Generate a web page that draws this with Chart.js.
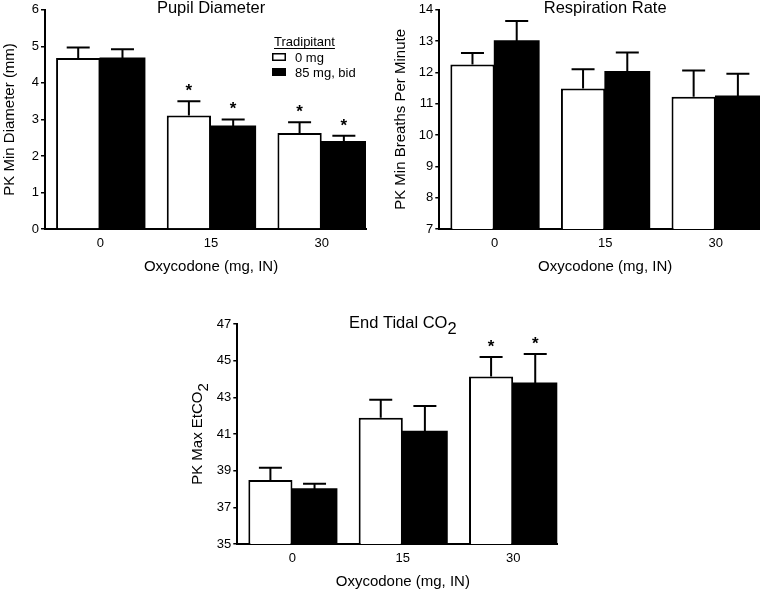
<!DOCTYPE html>
<html><head><meta charset="utf-8">
<script src="https://cdn.jsdelivr.net/npm/chart.js@4.4.1/dist/chart.umd.min.js"></script>
<style>
html,body{margin:0;padding:0;background:#fff;overflow:hidden;width:760px;height:589px;position:relative;}
.box{position:absolute;}
</style></head><body>
<div class="box" style="left:0;top:0;width:380px;height:285px"><canvas id="c1"></canvas></div>
<div class="box" style="left:380px;top:0;width:380px;height:285px"><canvas id="c2"></canvas></div>
<div class="box" style="left:180px;top:300px;width:400px;height:300px"><canvas id="c3"></canvas></div>
<script>
// ---- data ----
const doses = ['0', '15', '30'];
const xAxisTitle = 'Oxycodone (mg, IN)';
const seriesNames = ['0 mg', '85 mg, bid'];
const legendTitle = 'Tradipitant';

const pupilPlacebo = [4.68, 3.11, 2.63];
const pupilPlaceboSem = [0.29, 0.39, 0.29];
const pupilTradi = [4.67, 2.81, 2.39];
const pupilTradiSem = [0.25, 0.19, 0.16];
const pupilPlaceboSig = [false, true, true];
const pupilTradiSig = [false, true, true];

const respPlacebo = [12.25, 11.49, 11.22];
const respPlaceboSem = [0.37, 0.61, 0.84];
const respTradi = [13.0, 12.02, 11.24];
const respTradiSem = [0.64, 0.62, 0.72];
const respPlaceboSig = [false, false, false];
const respTradiSig = [false, false, false];

const co2Placebo = [38.49, 41.89, 44.13];
const co2PlaceboSem = [0.67, 0.98, 1.07];
const co2Tradi = [38.0, 41.13, 43.77];
const co2TradiSem = [0.29, 1.40, 1.59];
const co2PlaceboSig = [false, false, true];
const co2TradiSig = [false, false, true];

// ---- rendering ----
const FONT = '"Liberation Sans", Arial, Helvetica, sans-serif';
Chart.defaults.font.family = FONT;
Chart.defaults.color = '#000';

function toXY(vals) { return vals.map((v, i) => ({ x: i, y: v })); }

function drawRich(ctx, segs, size) {
  ctx.font = size + 'px ' + FONT;
  let total = 0;
  segs.forEach(s => total += ctx.measureText(s.t).width);
  let x = -total / 2;
  ctx.textAlign = 'left';
  ctx.textBaseline = 'alphabetic';
  segs.forEach(s => {
    ctx.fillText(s.t, x, s.sub ? 6 : 0);
    x += ctx.measureText(s.t).width;
  });
}

const errorBarPlugin = {
  id: 'errorBars',
  afterDatasetsDraw(chart) {
    const ctx = chart.ctx;
    const ys = chart.scales.y;
    ctx.save();
    ctx.strokeStyle = '#000';
    ctx.fillStyle = '#000';
    ctx.lineWidth = 2;
    chart.data.datasets.forEach((ds, di) => {
      const meta = chart.getDatasetMeta(di);
      meta.data.forEach((el, j) => {
        const v = ds.data[j].y;
        const top = ys.getPixelForValue(v + ds.sem[j]);
        const x = el.x;
        ctx.beginPath();
        ctx.moveTo(x, el.y);
        ctx.lineTo(x, top);
        ctx.moveTo(x - 11.5, top);
        ctx.lineTo(x + 11.5, top);
        ctx.stroke();
        if (ds.sig[j]) {
          ctx.font = 'bold 17px ' + FONT;
          ctx.textAlign = 'center';
          ctx.textBaseline = 'alphabetic';
          ctx.fillText('*', x, top - 5);
        }
      });
    });
    ctx.restore();
  }
};

function textPlugin(cfg) {
  return {
    id: 'texts',
    afterDraw(chart) {
      const ctx = chart.ctx;
      const ca = chart.chartArea;
      const midX = chart.scales.x.getPixelForValue(1);
      ctx.save();
      ctx.fillStyle = '#000';
      // chart title centered over middle category
      ctx.save();
      ctx.translate(midX, cfg.titleBaseline);
      drawRich(ctx, cfg.title, 16.5);
      ctx.restore();
      // x axis title centered over middle category
      ctx.font = '15px ' + FONT;
      ctx.textAlign = 'center';
      ctx.textBaseline = 'middle';
      ctx.fillText(xAxisTitle, midX, ca.bottom + 38);
      // y axis title
      ctx.save();
      ctx.translate(cfg.yTitleX, (ca.top + ca.bottom) / 2);
      ctx.rotate(-Math.PI / 2);
      ctx.translate(0, 5);
      drawRich(ctx, cfg.yTitle, 15);
      ctx.restore();
      // legend
      if (cfg.legend) {
        const lg = cfg.legend;
        ctx.font = '13px ' + FONT;
        ctx.textAlign = 'left';
        ctx.textBaseline = 'alphabetic';
        ctx.fillText(legendTitle, lg.x + 2, lg.y);
        const w = ctx.measureText(legendTitle).width;
        ctx.strokeStyle = '#000';
        ctx.lineWidth = 1;
        ctx.beginPath();
        ctx.moveTo(lg.x + 2, lg.y + 2.5);
        ctx.lineTo(lg.x + 2 + w, lg.y + 2.5);
        ctx.stroke();
        chart.data.datasets.forEach((ds, i) => {
          const by = lg.y + 15 * (i + 1);
          ctx.fillStyle = ds.backgroundColor;
          ctx.fillRect(lg.x, by - 8, 14, 8);
          ctx.strokeStyle = '#000';
          ctx.lineWidth = 1.5;
          ctx.strokeRect(lg.x + 0.75, by - 8 + 0.75, 12.5, 6.5);
          ctx.fillStyle = '#000';
          ctx.fillText(ds.label, lg.x + 23, by + 1);
        });
      }
      ctx.restore();
    }
  };
}

function makeChart(id, cfg) {
  const datasets = [
    { label: seriesNames[0], data: toXY(cfg.a), sem: cfg.aSem, sig: cfg.aSig,
      backgroundColor: '#ffffff', borderColor: '#000', borderWidth: 2, inflateAmount: 0 },
    { label: seriesNames[1], data: toXY(cfg.b), sem: cfg.bSem, sig: cfg.bSig,
      backgroundColor: '#000000', borderColor: '#000', borderWidth: 0, inflateAmount: 0.8 }
  ];
  return new Chart(document.getElementById(id), {
    type: 'bar',
    data: { datasets },
    options: {
      responsive: true, maintainAspectRatio: false, animation: false,
      layout: { padding: { left: 0, top: cfg.padTop, right: cfg.padRight, bottom: 0 } },
      datasets: { bar: { categoryPercentage: 0.8, barPercentage: 1.0 } },
      plugins: { legend: { display: false }, tooltip: { enabled: false }, title: { display: false } },
      scales: {
        x: {
          type: 'linear', min: -0.5, max: 2.4, offset: false,
          afterBuildTicks: (s) => { s.ticks = doses.map((d, i) => ({ value: i })); },
          afterFit: (s) => { s.height = 56; },
          grid: { display: false, drawTicks: false },
          border: { display: true, color: '#000', width: 2 },
          ticks: { padding: 7, font: { size: 13 }, color: '#000', callback: (v) => doses[v] },
          title: { display: false, text: xAxisTitle }
        },
        y: {
          min: cfg.yMin, max: cfg.yMax,
          afterFit: (s) => { s.width = cfg.yWidth; },
          ticks: { stepSize: cfg.yStep, padding: 2, font: { size: 13 }, color: '#000' },
          grid: { drawOnChartArea: false, drawTicks: true, tickLength: 4, color: '#000', lineWidth: 1.5 },
          border: { display: true, color: '#000', width: 2 }
        }
      }
    },
    plugins: [errorBarPlugin, textPlugin(cfg)]
  });
}

makeChart('c1', {
  a: pupilPlacebo, aSem: pupilPlaceboSem, aSig: pupilPlaceboSig,
  b: pupilTradi, bSem: pupilTradiSem, bSig: pupilTradiSig,
  yMin: 0, yMax: 6, yStep: 1, yWidth: 45, padTop: 9, padRight: 14,
  title: [{ t: 'Pupil Diameter' }], titleBaseline: 13,
  yTitle: [{ t: 'PK Min Diameter (mm)' }], yTitleX: 8.5,
  legend: { x: 272, y: 46 }
});
makeChart('c2', {
  a: respPlacebo, aSem: respPlaceboSem, aSig: respPlaceboSig,
  b: respTradi, bSem: respTradiSem, bSig: respTradiSig,
  yMin: 7, yMax: 14, yStep: 1, yWidth: 59.3, padTop: 9, padRight: 0,
  title: [{ t: 'Respiration Rate' }], titleBaseline: 13,
  yTitle: [{ t: 'PK Min Breaths Per Minute' }], yTitleX: 20
});
makeChart('c3', {
  a: co2Placebo, aSem: co2PlaceboSem, aSig: co2PlaceboSig,
  b: co2Tradi, bSem: co2TradiSem, bSig: co2TradiSig,
  yMin: 35, yMax: 47, yStep: 2, yWidth: 57.3, padTop: 24, padRight: 22.7,
  title: [{ t: 'End Tidal CO' }, { t: '2', sub: true }], titleBaseline: 28,
  yTitle: [{ t: 'PK Max EtCO' }, { t: '2', sub: true }], yTitleX: 16.5
});
</script>
</body></html>
